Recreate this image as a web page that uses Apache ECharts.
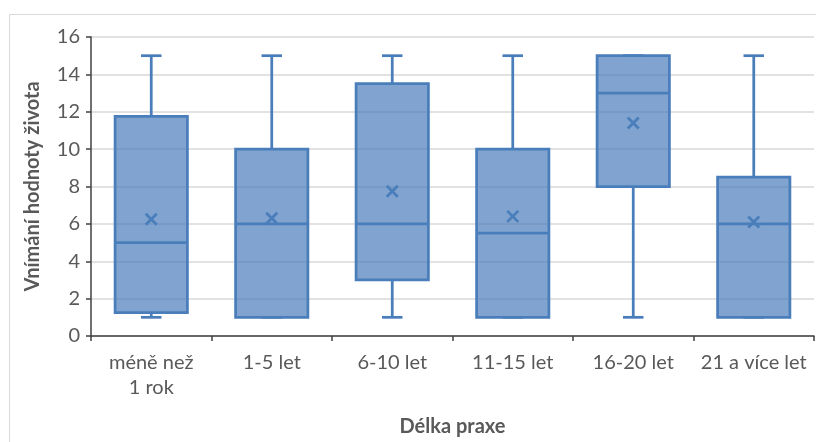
<!DOCTYPE html>
<html>
<head>
<meta charset="utf-8">
<script src="https://cdn.jsdelivr.net/npm/echarts@6/dist/echarts.min.js"></script>
<style>
  html, body { margin: 0; padding: 0; background: #ffffff; }
  #chart { width: 816px; height: 442px; }
</style>
</head>
<body>
<div id="chart"></div>
<script>
// Box plot: perceived value of life by length of practice
const categories = ['méně než\n1 rok', '1-5 let', '6-10 let', '11-15 let', '16-20 let', '21 a více let'];
const minValues    = [1, 1, 1, 1, 1, 1];
const q1Values     = [1.25, 1, 3, 1, 8, 1];
const medianValues = [5, 6, 6, 5.5, 13, 6];
const q3Values     = [11.75, 10, 13.5, 10, 15, 8.5];
const maxValues    = [15, 15, 15, 15, 15, 15];
const meanValues   = [6.25, 6.3, 7.75, 6.4, 11.4, 6.1];
const yTicks       = [0, 2, 4, 6, 8, 10, 12, 14, 16];

const STROKE = '#4a7ebb';
const FILL = 'rgba(74,126,187,0.7)';
const TEXT = '#595959';
const FONT = 'Lato';
const LW = 2.75;

const boxData = categories.map((c, i) => [i, minValues[i], q1Values[i], medianValues[i], q3Values[i], maxValues[i]]);
const meanData = categories.map((c, i) => [i, meanValues[i]]);

function renderBox(params, api) {
  const idx = api.value(0);
  const band = api.size([1, 0])[0];
  const boxW = band * 0.6;
  const capW = band * 0.17;
  const pMin = api.coord([idx, api.value(1)]);
  const pQ1 = api.coord([idx, api.value(2)]);
  const pMed = api.coord([idx, api.value(3)]);
  const pQ3 = api.coord([idx, api.value(4)]);
  const pMax = api.coord([idx, api.value(5)]);
  const x = pMed[0];
  const lineStyle = { stroke: STROKE, lineWidth: LW, fill: null };
  const children = [];
  const line = (x1, y1, x2, y2) => ({ type: 'line', shape: { x1, y1, x2, y2 }, style: lineStyle });
  if (pMax[1] < pQ3[1]) children.push(line(x, pMax[1], x, pQ3[1]));
  if (pMin[1] > pQ1[1]) children.push(line(x, pQ1[1], x, pMin[1]));
  children.push(line(x - capW / 2, pMax[1], x + capW / 2, pMax[1]));
  children.push(line(x - capW / 2, pMin[1], x + capW / 2, pMin[1]));
  children.push({
    type: 'rect',
    shape: { x: x - boxW / 2, y: pQ3[1], width: boxW, height: pQ1[1] - pQ3[1] },
    style: { fill: FILL, stroke: STROKE, lineWidth: LW }
  });
  children.push(line(x - boxW / 2, pMed[1], x + boxW / 2, pMed[1]));
  return { type: 'group', children };
}

function renderMean(params, api) {
  const p = api.coord([api.value(0), api.value(1)]);
  const r = 5.5;
  const st = { stroke: STROKE, lineWidth: LW, fill: null };
  return {
    type: 'group',
    children: [
      { type: 'line', shape: { x1: p[0] - r, y1: p[1] - r, x2: p[0] + r, y2: p[1] + r }, style: st },
      { type: 'line', shape: { x1: p[0] - r, y1: p[1] + r, x2: p[0] + r, y2: p[1] - r }, style: st }
    ]
  };
}

const chart = echarts.init(document.getElementById('chart'), null, { renderer: 'canvas' });
chart.setOption({
  animation: false,
  backgroundColor: '#ffffff',
  textStyle: { fontFamily: FONT },
  graphic: [{
    type: 'rect',
    shape: { x: 9.5, y: 14.5, width: 900, height: 600 },
    style: { fill: null, stroke: '#d9d9d9', lineWidth: 1 },
    silent: true,
    z: -10
  }],
  grid: { left: 91, right: 2, top: 37, bottom: 106 },
  xAxis: {
    type: 'category',
    data: categories,
    name: 'Délka praxe',
    nameLocation: 'middle',
    nameGap: 81,
    nameTextStyle: { color: TEXT, fontSize: 20, fontWeight: 'bold', fontFamily: FONT },
    axisLine: { lineStyle: { color: '#404040', width: 1.5 } },
    axisTick: { show: true, length: 5, lineStyle: { color: '#404040', width: 1.5 } },
    axisLabel: { color: TEXT, fontSize: 20, fontFamily: FONT, margin: 14, lineHeight: 25, interval: 0 },
    splitLine: { show: false }
  },
  yAxis: {
    type: 'value',
    min: yTicks[0],
    max: yTicks[yTicks.length - 1],
    interval: 2,
    name: 'Vnímání hodnoty života',
    nameLocation: 'middle',
    nameGap: 48,
    nameTextStyle: { color: TEXT, fontSize: 20, fontWeight: 'bold', fontFamily: FONT },
    axisLine: { show: true, lineStyle: { color: '#404040', width: 1.5 } },
    axisTick: { show: true, length: 5, lineStyle: { color: '#404040', width: 1.5 } },
    axisLabel: { color: TEXT, fontSize: 20, fontFamily: FONT, margin: 11 },
    splitLine: { show: true, lineStyle: { color: '#d9d9d9', width: 1.5 } }
  },
  series: [
    { type: 'custom', name: 'box', data: boxData, renderItem: renderBox, encode: { x: 0, y: [1, 2, 3, 4, 5] }, z: 3 },
    { type: 'custom', name: 'mean', data: meanData, renderItem: renderMean, encode: { x: 0, y: 1 }, z: 4 }
  ]
});
</script>
</body>
</html>
